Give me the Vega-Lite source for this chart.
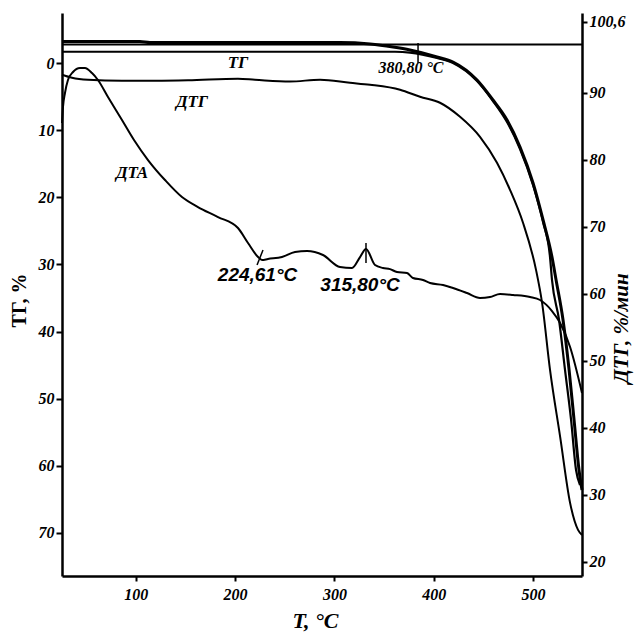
{
  "$schema": "https://vega.github.io/schema/vega-lite/v6.json",
  "width": 520,
  "height": 563,
  "autosize": {"type": "none"},
  "padding": {"left": 62, "top": 13, "right": 53, "bottom": 57},
  "background": "white",
  "config": {
    "view": {"stroke": null},
    "axis": {
      "domainColor": "black", "domainWidth": 2.5,
      "tickColor": "black", "tickWidth": 2, "tickSize": 5,
      "labelColor": "black", "titleColor": "black",
      "labelFont": "Liberation Serif", "labelFontWeight": "bold", "labelFontStyle": "italic", "labelFontSize": 16,
      "titleFont": "Liberation Serif", "titleFontWeight": "bold",
      "grid": false, "labelFlush": false, "labelOverlap": false
    }
  },
  "datasets": {
    "curves": [
      {"curve": "baseline", "T": 25.7, "v": -2.76},
      {"curve": "baseline", "T": 549.3, "v": -2.76},
      {"curve": "TG_a", "T": 25.7, "v": -3.2},
      {"curve": "TG_a", "T": 104.2, "v": -3.2},
      {"curve": "TG_a", "T": 114.3, "v": -3.05},
      {"curve": "TG_a", "T": 305.6, "v": -3.05},
      {"curve": "TG_a", "T": 335.9, "v": -2.83},
      {"curve": "TG_a", "T": 359.0, "v": -2.38},
      {"curve": "TG_a", "T": 376.1, "v": -1.94},
      {"curve": "TG_a", "T": 403.3, "v": -0.89},
      {"curve": "TG_a", "T": 419.4, "v": -0.15},
      {"curve": "TG_a", "T": 443.6, "v": 2.53},
      {"curve": "TG_a", "T": 459.7, "v": 5.51},
      {"curve": "TG_a", "T": 473.8, "v": 8.49},
      {"curve": "TG_a", "T": 486.9, "v": 12.51},
      {"curve": "TG_a", "T": 500.0, "v": 17.87},
      {"curve": "TG_a", "T": 510.1, "v": 23.38},
      {"curve": "TG_a", "T": 519.1, "v": 28.9},
      {"curve": "TG_a", "T": 523.2, "v": 32.32},
      {"curve": "TG_a", "T": 530.2, "v": 38.28},
      {"curve": "TG_a", "T": 536.3, "v": 45.72},
      {"curve": "TG_a", "T": 541.3, "v": 53.17},
      {"curve": "TG_a", "T": 546.3, "v": 60.62},
      {"curve": "TG_a", "T": 549.3, "v": 63.6},
      {"curve": "TG_b", "T": 25.7, "v": -1.68},
      {"curve": "TG_b", "T": 361.0, "v": -1.68},
      {"curve": "TG_b", "T": 376.1, "v": -1.56},
      {"curve": "TG_b", "T": 403.3, "v": -0.74},
      {"curve": "TG_b", "T": 419.4, "v": 0.0},
      {"curve": "TG_b", "T": 443.6, "v": 2.68},
      {"curve": "TG_b", "T": 459.7, "v": 5.66},
      {"curve": "TG_b", "T": 473.8, "v": 8.79},
      {"curve": "TG_b", "T": 486.9, "v": 12.81},
      {"curve": "TG_b", "T": 500.0, "v": 18.17},
      {"curve": "TG_b", "T": 510.1, "v": 23.68},
      {"curve": "TG_b", "T": 517.1, "v": 28.9},
      {"curve": "TG_b", "T": 519.1, "v": 32.32},
      {"curve": "TG_b", "T": 526.2, "v": 38.28},
      {"curve": "TG_b", "T": 532.2, "v": 45.72},
      {"curve": "TG_b", "T": 538.3, "v": 53.17},
      {"curve": "TG_b", "T": 543.3, "v": 60.62},
      {"curve": "TG_b", "T": 547.3, "v": 62.85},
      {"curve": "DTA", "T": 25.7, "v": 8.94},
      {"curve": "DTA", "T": 26.7, "v": 6.55},
      {"curve": "DTA", "T": 28.7, "v": 4.47},
      {"curve": "DTA", "T": 31.7, "v": 2.53},
      {"curve": "DTA", "T": 36.8, "v": 1.34},
      {"curve": "DTA", "T": 43.8, "v": 0.74},
      {"curve": "DTA", "T": 48.8, "v": 0.74},
      {"curve": "DTA", "T": 55.9, "v": 1.49},
      {"curve": "DTA", "T": 61.9, "v": 2.53},
      {"curve": "DTA", "T": 72.0, "v": 5.06},
      {"curve": "DTA", "T": 86.1, "v": 8.49},
      {"curve": "DTA", "T": 98.2, "v": 11.47},
      {"curve": "DTA", "T": 112.3, "v": 14.45},
      {"curve": "DTA", "T": 129.4, "v": 17.43},
      {"curve": "DTA", "T": 146.5, "v": 19.96},
      {"curve": "DTA", "T": 162.6, "v": 21.45},
      {"curve": "DTA", "T": 182.8, "v": 22.94},
      {"curve": "DTA", "T": 202.9, "v": 24.58},
      {"curve": "DTA", "T": 213.0, "v": 26.81},
      {"curve": "DTA", "T": 223.1, "v": 28.9},
      {"curve": "DTA", "T": 227.1, "v": 29.34},
      {"curve": "DTA", "T": 233.1, "v": 29.19},
      {"curve": "DTA", "T": 247.2, "v": 28.9},
      {"curve": "DTA", "T": 260.3, "v": 28.15},
      {"curve": "DTA", "T": 272.4, "v": 28.0},
      {"curve": "DTA", "T": 288.5, "v": 28.6},
      {"curve": "DTA", "T": 305.6, "v": 30.38},
      {"curve": "DTA", "T": 317.7, "v": 30.53},
      {"curve": "DTA", "T": 325.8, "v": 28.9},
      {"curve": "DTA", "T": 331.8, "v": 27.7},
      {"curve": "DTA", "T": 340.9, "v": 30.09},
      {"curve": "DTA", "T": 348.9, "v": 30.53},
      {"curve": "DTA", "T": 356.0, "v": 30.7},
      {"curve": "DTA", "T": 363.0, "v": 31.13},
      {"curve": "DTA", "T": 373.1, "v": 31.28},
      {"curve": "DTA", "T": 379.1, "v": 32.02},
      {"curve": "DTA", "T": 389.2, "v": 32.32},
      {"curve": "DTA", "T": 396.3, "v": 32.77},
      {"curve": "DTA", "T": 409.4, "v": 33.06},
      {"curve": "DTA", "T": 419.4, "v": 33.51},
      {"curve": "DTA", "T": 433.5, "v": 34.26},
      {"curve": "DTA", "T": 446.6, "v": 35.0},
      {"curve": "DTA", "T": 456.7, "v": 34.85},
      {"curve": "DTA", "T": 466.8, "v": 34.41},
      {"curve": "DTA", "T": 479.9, "v": 34.55},
      {"curve": "DTA", "T": 497.0, "v": 34.85},
      {"curve": "DTA", "T": 507.1, "v": 35.3},
      {"curve": "DTA", "T": 519.1, "v": 36.94},
      {"curve": "DTA", "T": 527.3, "v": 38.72},
      {"curve": "DTA", "T": 537.3, "v": 42.3},
      {"curve": "DTA", "T": 549.3, "v": 49.15},
      {"curve": "DTG", "T": 25.7, "v": 92.69},
      {"curve": "DTG", "T": 35.8, "v": 92.24},
      {"curve": "DTG", "T": 51.9, "v": 91.94},
      {"curve": "DTG", "T": 86.1, "v": 91.79},
      {"curve": "DTG", "T": 119.3, "v": 91.79},
      {"curve": "DTG", "T": 152.6, "v": 91.85},
      {"curve": "DTG", "T": 202.9, "v": 92.09},
      {"curve": "DTG", "T": 220.0, "v": 91.94},
      {"curve": "DTG", "T": 255.3, "v": 91.68},
      {"curve": "DTG", "T": 285.5, "v": 91.94},
      {"curve": "DTG", "T": 315.7, "v": 91.49},
      {"curve": "DTG", "T": 335.9, "v": 91.19},
      {"curve": "DTG", "T": 366.1, "v": 90.45},
      {"curve": "DTG", "T": 386.2, "v": 89.4},
      {"curve": "DTG", "T": 406.3, "v": 88.51},
      {"curve": "DTG", "T": 426.5, "v": 86.42},
      {"curve": "DTG", "T": 446.6, "v": 83.43},
      {"curve": "DTG", "T": 463.7, "v": 79.55},
      {"curve": "DTG", "T": 476.8, "v": 75.52},
      {"curve": "DTG", "T": 489.9, "v": 70.6},
      {"curve": "DTG", "T": 503.0, "v": 63.58},
      {"curve": "DTG", "T": 509.1, "v": 58.66},
      {"curve": "DTG", "T": 517.1, "v": 48.66},
      {"curve": "DTG", "T": 527.3, "v": 38.66},
      {"curve": "DTG", "T": 537.3, "v": 28.81},
      {"curve": "DTG", "T": 545.3, "v": 24.78},
      {"curve": "DTG", "T": 549.3, "v": 24.03}
    ],
    "ticks": [
      {"T": 384.2, "v": -2.98, "T2": 384.2, "v2": 0.0},
      {"T": 222.1, "v": 30.09, "T2": 228.1, "v2": 27.85},
      {"T": 331.8, "v": 26.81, "T2": 331.8, "v2": 29.79}
    ],
    "serifLabels": [
      {"text": "ТГ", "T": 202.9, "v": 0.0},
      {"text": "ДТГ", "T": 156.6, "v": 5.81},
      {"text": "ДТА", "T": 96.2, "v": 16.38}
    ],
    "onsetLabel": [
      {"text": "380,80 °C", "T": 377.1, "v": 0.74}
    ],
    "peakLabels": [
      {"text": "224,61°C", "T": 222.6, "v": 31.58},
      {"text": "315,80°C", "T": 325.8, "v": 33.06}
    ]
  },
  "encoding": {
    "x": {
      "field": "T", "type": "quantitative",
      "scale": {"domain": [25.7, 549.3], "nice": false, "zero": false},
      "axis": {
        "values": [100, 200, 300, 400, 500],
        "labelPadding": 5,
        "title": "T, °C", "titleFontSize": 22, "titleFontStyle": "italic",
        "titleX": 253, "titleY": 44, "titleAlign": "center", "titleBaseline": "middle"
      }
    }
  },
  "layer": [
    {
      "encoding": {
        "y": {
          "field": "v", "type": "quantitative",
          "scale": {"domain": [-7.45, 76.41], "reverse": true, "nice": false, "zero": false},
          "axis": {
            "orient": "left",
            "values": [0, 10, 20, 30, 40, 50, 60, 70],
            "tickSize": 6, "labelPadding": 2,
            "title": "ТГ, %", "titleFontSize": 20, "titleAngle": 270,
            "titleX": -43, "titleY": 287, "titleAlign": "center", "titleBaseline": "middle"
          }
        }
      },
      "layer": [
        {
          "data": {"name": "curves"},
          "transform": [{"filter": "datum.curve === 'baseline'"}],
          "mark": {"type": "line", "color": "black", "strokeWidth": 2},
          "encoding": {}
        },
        {
          "data": {"name": "curves"},
          "transform": [{"filter": "datum.curve === 'TG_a'"}],
          "mark": {"type": "line", "color": "black", "strokeWidth": 3, "interpolate": "monotone"},
          "encoding": {}
        },
        {
          "data": {"name": "curves"},
          "transform": [{"filter": "datum.curve === 'TG_b'"}],
          "mark": {"type": "line", "color": "black", "strokeWidth": 2.2, "interpolate": "monotone"},
          "encoding": {}
        },
        {
          "data": {"name": "curves"},
          "transform": [{"filter": "datum.curve === 'DTA'"}],
          "mark": {"type": "line", "color": "black", "strokeWidth": 2, "interpolate": "monotone"},
          "encoding": {}
        },
        {
          "data": {"name": "ticks"},
          "mark": {"type": "rule", "color": "black", "strokeWidth": 1.5},
          "encoding": {
            "x2": {"field": "T2"},
            "y2": {"field": "v2"}
          }
        },
        {
          "data": {"name": "serifLabels"},
          "mark": {"type": "text", "font": "Liberation Serif", "fontWeight": "bold", "fontStyle": "italic", "fontSize": 17, "color": "black", "align": "center", "baseline": "middle"},
          "encoding": {"text": {"field": "text"}}
        },
        {
          "data": {"name": "onsetLabel"},
          "mark": {"type": "text", "font": "Liberation Serif", "fontWeight": "bold", "fontStyle": "italic", "fontSize": 16, "color": "black", "align": "center", "baseline": "middle"},
          "encoding": {"text": {"field": "text"}}
        },
        {
          "data": {"name": "peakLabels"},
          "mark": {"type": "text", "font": "Liberation Sans", "fontWeight": "bold", "fontStyle": "italic", "fontSize": 19, "color": "black", "align": "center", "baseline": "middle"},
          "encoding": {"text": {"field": "text"}}
        }
      ]
    },
    {
      "data": {"name": "curves"},
      "transform": [{"filter": "datum.curve === 'DTG'"}],
      "mark": {"type": "line", "color": "black", "strokeWidth": 2, "interpolate": "monotone"},
      "encoding": {
        "y": {
          "field": "v", "type": "quantitative",
          "scale": {"domain": [17.9, 101.9], "nice": false, "zero": false},
          "axis": {
            "orient": "right",
            "values": [20, 30, 40, 50, 60, 70, 80, 90, 100.6],
            "format": ".1~f",
            "labelExpr": "replace(datum.label, '.', ',')",
            "tickSize": 5, "labelPadding": 2,
            "title": "ДТГ, %/мин", "titleFontSize": 21, "titleFontStyle": "italic", "titleAngle": 270,
            "titleX": 39, "titleY": 315, "titleAlign": "center", "titleBaseline": "middle"
          }
        }
      }
    }
  ],
  "resolve": {"scale": {"y": "independent"}}
}
